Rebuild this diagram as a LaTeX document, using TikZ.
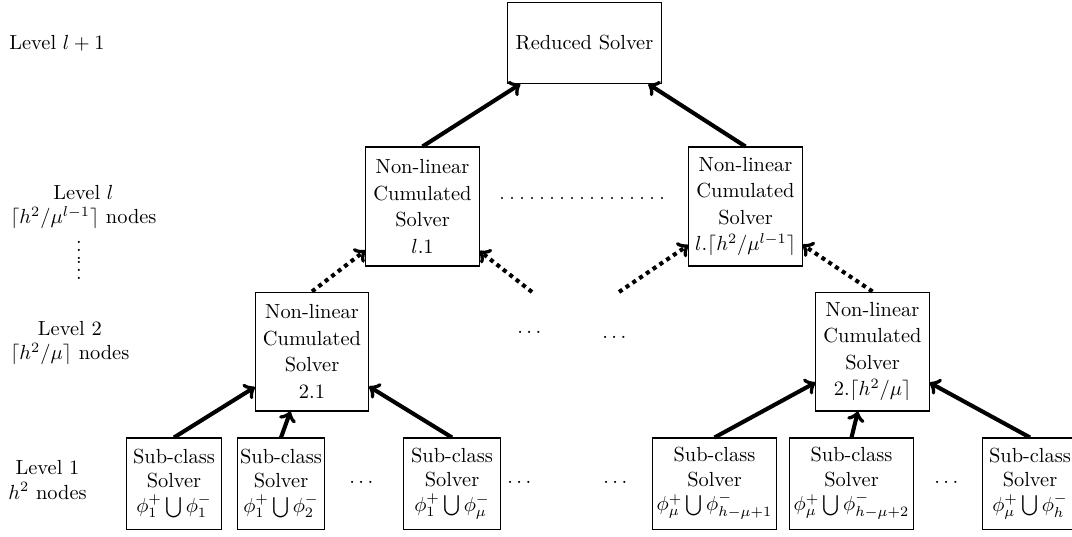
\documentclass[tikz,border=0pt]{standalone}
\usepackage{amsmath}
\begin{document}
\begin{tikzpicture}[x=0.49pt,y=-0.49pt,
  box/.style={draw, line width=0.5pt, align=center, inner sep=1pt},
  lvbox/.style={box, minimum width=55.4pt, minimum height=58.3pt, font=\fontsize{10}{13}\selectfont},
  subbox/.style={box, minimum height=44.6pt},
  arr/.style={->, line width=2pt},
  darr/.style={->, line width=2pt, dotted},
  lab/.style={anchor=west, align=center, inner sep=0pt},
  hdots/.style={line width=1pt, line cap=round, dash pattern=on 0pt off 4.9pt}
]
\useasboundingbox (0,0) rectangle (1072,536);
% top
\node[box, minimum width=75pt, minimum height=39.7pt] (R) at (584.5,43) {Reduced Solver};
% level l
\node[lvbox] (Ll1) at (422.5,206.5) {Non-linear\\Cumulated\\Solver\\$l.1$};
\node[lvbox] (Ll2) at (745.5,206.5) {Non-linear\\Cumulated\\Solver\\$l.\lceil h^2/\mu^{l-1}\rceil$};
\coordinate (h1) at (502,198);
\coordinate (h2) at (663,198);
\draw[hdots] (h1) -- (h2);
% level 2
\node[lvbox] (L21) at (312,351.5) {Non-linear\\Cumulated\\Solver\\$2.1$};
\node[lvbox] (L22) at (872.5,351.5) {Non-linear\\Cumulated\\Solver\\$2.\lceil h^2/\mu\rceil$};
\node (m1) at (531,333) {$\cdots$};
\node (m2) at (616,338) {$\cdots$};
\coordinate (e1) at (532,292);
\coordinate (e2) at (619,292);
% level 1
\node[subbox, minimum width=47pt] (B1) at (174,483.5) {Sub-class\\Solver\\$\phi_1^+\bigcup\phi_1^-$};
\node[subbox, minimum width=42.6pt] (B2) at (281,483.5) {Sub-class\\Solver\\$\phi_1^+\bigcup\phi_2^-$};
\node[subbox, minimum width=48pt] (B3) at (452,483.5) {Sub-class\\Solver\\$\phi_1^+\bigcup\phi_\mu^-$};
\node[subbox, minimum width=60.3pt] (B4) at (714.5,483.5) {Sub-class\\Solver\\$\phi_\mu^+\bigcup\phi_{h-\mu+1}^-$};
\node[subbox, minimum width=60.3pt] (B5) at (851.5,483.5) {Sub-class\\Solver\\$\phi_\mu^+\bigcup\phi_{h-\mu+2}^-$};
\node[subbox, minimum width=47pt] (B6) at (1030,483.5) {Sub-class\\Solver\\$\phi_\mu^+\bigcup\phi_h^-$};
\node (c1) at (363,483) {$\cdots$};
\node (c2) at (521,483) {$\cdots$};
\node (c3) at (617,483) {$\cdots$};
\node (c4) at (948,483) {$\cdots$};
% labels
\node[lab] (t1) at (9,43) {Level $l+1$};
\node[lab] (t2) at (10,207) {Level $l$\\$\lceil h^2/\mu^{l-1}\rceil$ nodes};
\node[inner sep=0pt, anchor=south] (v1) at (79,260) {$\vdots$};
\node[inner sep=0pt, anchor=south] (v2) at (79,280) {$\vdots$};
\node[lab] (t3) at (10,343) {Level 2\\$\lceil h^2/\mu\rceil$ nodes};
\node[lab] (t4) at (8,480) {Level 1\\$h^2$ nodes};
% connectors
\draw[arr] (B1.north) -- (L21);
\draw[arr] (B2.north) -- (L21);
\draw[arr] (B3.north) -- (L21);
\draw[arr] (B4.north) -- (L22);
\draw[arr] (B5.north) -- (L22);
\draw[arr] (B6.north) -- (L22);
\draw[darr] (L21.north) -- (Ll1);
\draw[darr] (e1) -- (Ll1);
\draw[darr] (e2) -- (Ll2);
\draw[darr] (L22.north) -- (Ll2);
\draw[arr] (Ll1.north) -- (R);
\draw[arr] (Ll2.north) -- (R);
\end{tikzpicture}
\end{document}
